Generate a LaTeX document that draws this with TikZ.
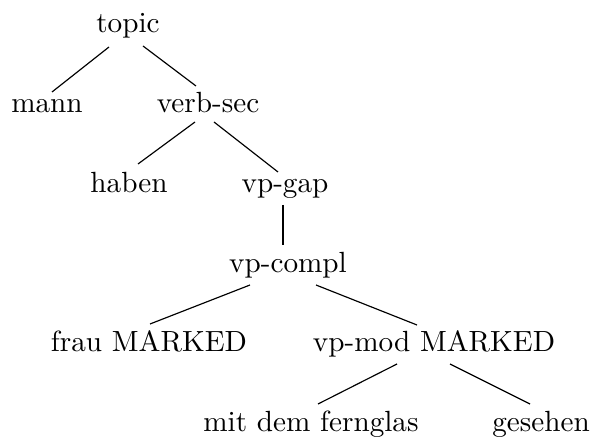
\documentclass[tikz,border=0pt]{standalone}
\begin{document}
\begin{tikzpicture}[x=0.3425pt,y=-0.3425pt,
  lbl/.style={anchor=base,inner sep=0pt,font=\normalsize},
  edge/.style={draw=black,line width=0.4pt}]
\useasboundingbox (0,0) rectangle (591,437);
\node[lbl] (topic) at (128,33) {topic};
\node[lbl] (mann) at (47,113) {mann};
\node[lbl] (verbsec) at (208,113) {verb-sec};
\node[lbl] (haben) at (129,193) {haben};
\node[lbl] (vpgap) at (285,193) {vp-gap};
\node[lbl] (vpcompl) at (288,273) {vp-compl};
\node[lbl] (frau) at (149,352) {frau MARKED};
\node[lbl] (vpmod) at (434,352) {vp-mod MARKED};
\node[lbl] (mit) at (311,432) {mit dem fernglas};
\node[lbl] (gesehen) at (541,432) {gesehen};
\draw[edge] ([shift={(-19,14)}]topic.base) -- ([shift={(5,-21)}]mann.base);
\draw[edge] ([shift={(15,13)}]topic.base) -- ([shift={(-12,-27)}]verbsec.base);
\draw[edge] ([shift={(-13,9)}]verbsec.base) -- ([shift={(9,-29)}]haben.base);
\draw[edge] ([shift={(6,9)}]verbsec.base) -- ([shift={(-7,-21)}]vpgap.base);
\draw[edge] ([shift={(-2,12)}]vpgap.base) -- ([shift={(-5,-28)}]vpcompl.base);
\draw[edge] ([shift={(-38,12)}]vpcompl.base) -- ([shift={(1,-28)}]frau.base);
\draw[edge] ([shift={(28,12)}]vpcompl.base) -- ([shift={(-17,-27)}]vpmod.base);
\draw[edge] ([shift={(-37,12)}]vpmod.base) -- ([shift={(7,-28)}]mit.base);
\draw[edge] ([shift={(16,12)}]vpmod.base) -- ([shift={(-11,-28)}]gesehen.base);
\end{tikzpicture}
\end{document}
